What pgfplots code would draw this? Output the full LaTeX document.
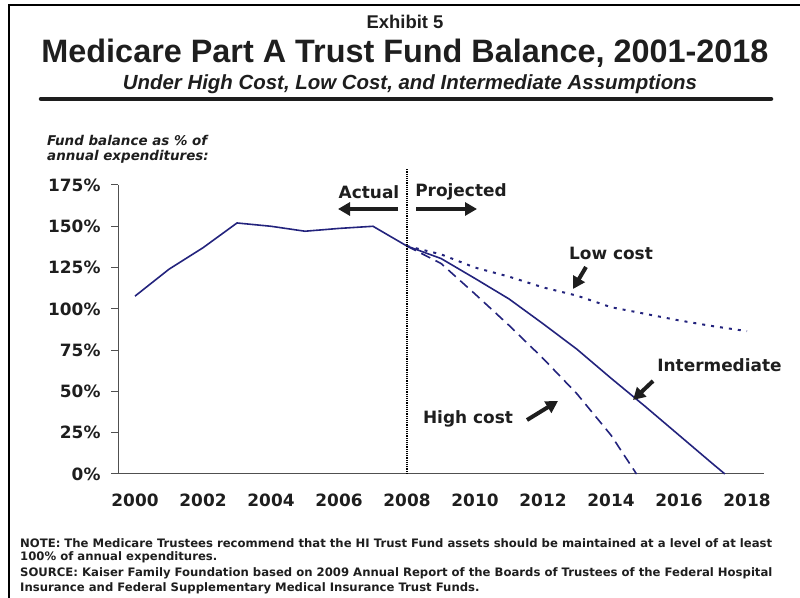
\documentclass[border=0pt]{standalone}
\usepackage{pgfplots}
\pgfplotsset{compat=1.18}
\usepackage{fontspec}
\setmainfont{DejaVu Sans}
\newfontfamily\titlefont{Liberation Sans}
\usetikzlibrary{arrows.meta}
\definecolor{navy}{RGB}{35,35,125}
\definecolor{ink}{RGB}{30,30,30}
\definecolor{axisgray}{RGB}{80,80,80}

\begin{document}
\begin{tikzpicture}[x=1bp,y=1bp]
\useasboundingbox (0,0) rectangle (800,598);
\draw[line width=2bp, black] (9,-2) -- (9,593) -- (802,593);
\node[font=\titlefont\bfseries\fontsize{18.5}{22}\selectfont, text=ink] at (405,576) {Exhibit 5};
\node[font=\titlefont\bfseries\fontsize{32.5}{36}\selectfont, text=ink] at (405,545) {Medicare Part A Trust Fund Balance, 2001-2018};
\node[font=\titlefont\bfseries\itshape\fontsize{20.5}{24}\selectfont, text=ink] at (410,514) {Under High Cost, Low Cost, and Intermediate Assumptions};
\draw[line width=4.5bp, line cap=round, ink] (41,499) -- (771,499);

\node[anchor=west, font=\bfseries\itshape\fontsize{13.5}{16}\selectfont, text=ink, inner sep=0] at (47,458) {Fund balance as \% of};
\node[anchor=west, font=\bfseries\itshape\fontsize{13.5}{16}\selectfont, text=ink, inner sep=0] at (47,441) {annual expenditures:};

\begin{axis}[
  at={(118bp,124bp)}, anchor=south west,
  scale only axis, width=646bp, height=289bp,
  xmin=1999.5, xmax=2018.5, ymin=0, ymax=175,
  axis x line*=bottom, axis y line*=left,
  axis line style={draw=axisgray, line width=1bp},
  xtick={2000,2002,...,2018}, ytick={0,25,...,175},
  x tick style={draw=none}, y tick style={draw=axisgray, line width=1bp},
  major tick length=7bp, tick align=outside,
  /pgf/number format/assume math mode=true,
  /pgf/number format/1000 sep={},
  ticklabel style={font=\bfseries\fontsize{17}{20}\selectfont, text=ink},
  yticklabel={\pgfmathprintnumber{\tick}\%},
  yticklabel style={xshift=-7bp},
  xticklabel style={yshift=-9bp},
  clip=false,
]
\addplot[navy, line width=1.6bp] coordinates {
(2000,107.7)(2001,124)(2002,137)(2003,152)(2004,150)(2005,147)(2006,148.7)(2007,150)(2008,138)};
\addplot[navy, line width=1.6bp] coordinates {
(2008,138)(2009,130.5)(2010,118.4)(2011,106)(2012,91)(2013,75.5)(2014,58)(2015,41)(2016,23.5)(2017,6)(2017.35,0)};
\addplot[navy, line width=2bp, dash pattern=on 3bp off 6bp] coordinates {
(2008,138)(2009,133)(2010,125)(2011,119.5)(2012,113)(2013,108)(2014,101)(2015,97)(2016,93)(2017,89.5)(2018,86.5)};
\addplot[navy, line width=1.6bp, dash pattern=on 10bp off 6bp] coordinates {
(2008,138)(2009,127.5)(2010,109)(2011,90)(2012,70)(2013,48.5)(2014,23.5)(2014.75,0)};
\addplot[black, line width=1.8bp, dash pattern=on 1.2bp off 1bp] coordinates {(2008,0) (2008,184.5)};
\end{axis}

\begin{scope}[font=\bfseries\fontsize{17}{20}\selectfont, text=ink]
\node at (369,406) {Actual};
\node at (461,406) {Projected};
\node at (611,345) {Low cost};
\node at (719.5,233) {Intermediate};
\node at (468,179) {High cost};
\end{scope}
\begin{scope}[ink, line width=4bp, -{Triangle[length=12bp,width=13bp]}]
\draw (398,389) -- (338,389);
\draw (416,389) -- (477,389);
\draw (586,331) -- (573,309);
\draw (653,217) -- (633,198);
\draw (527,178) -- (558,197);
\end{scope}

\begin{scope}[font=\bfseries\fontsize{11.7}{14}\selectfont, text=ink]
\node[anchor=west, inner sep=0] at (20,55) {NOTE: The Medicare Trustees recommend that the HI Trust Fund assets should be maintained at a level of at least};
\node[anchor=west, inner sep=0] at (20,41) {100\% of annual expenditures.};
\node[anchor=west, inner sep=0] at (20,25) {SOURCE: Kaiser Family Foundation based on 2009 Annual Report of the Boards of Trustees of the Federal Hospital};
\node[anchor=west, inner sep=0] at (20,10) {Insurance and Federal Supplementary Medical Insurance Trust Funds.};
\end{scope}
\end{tikzpicture}
\end{document}
